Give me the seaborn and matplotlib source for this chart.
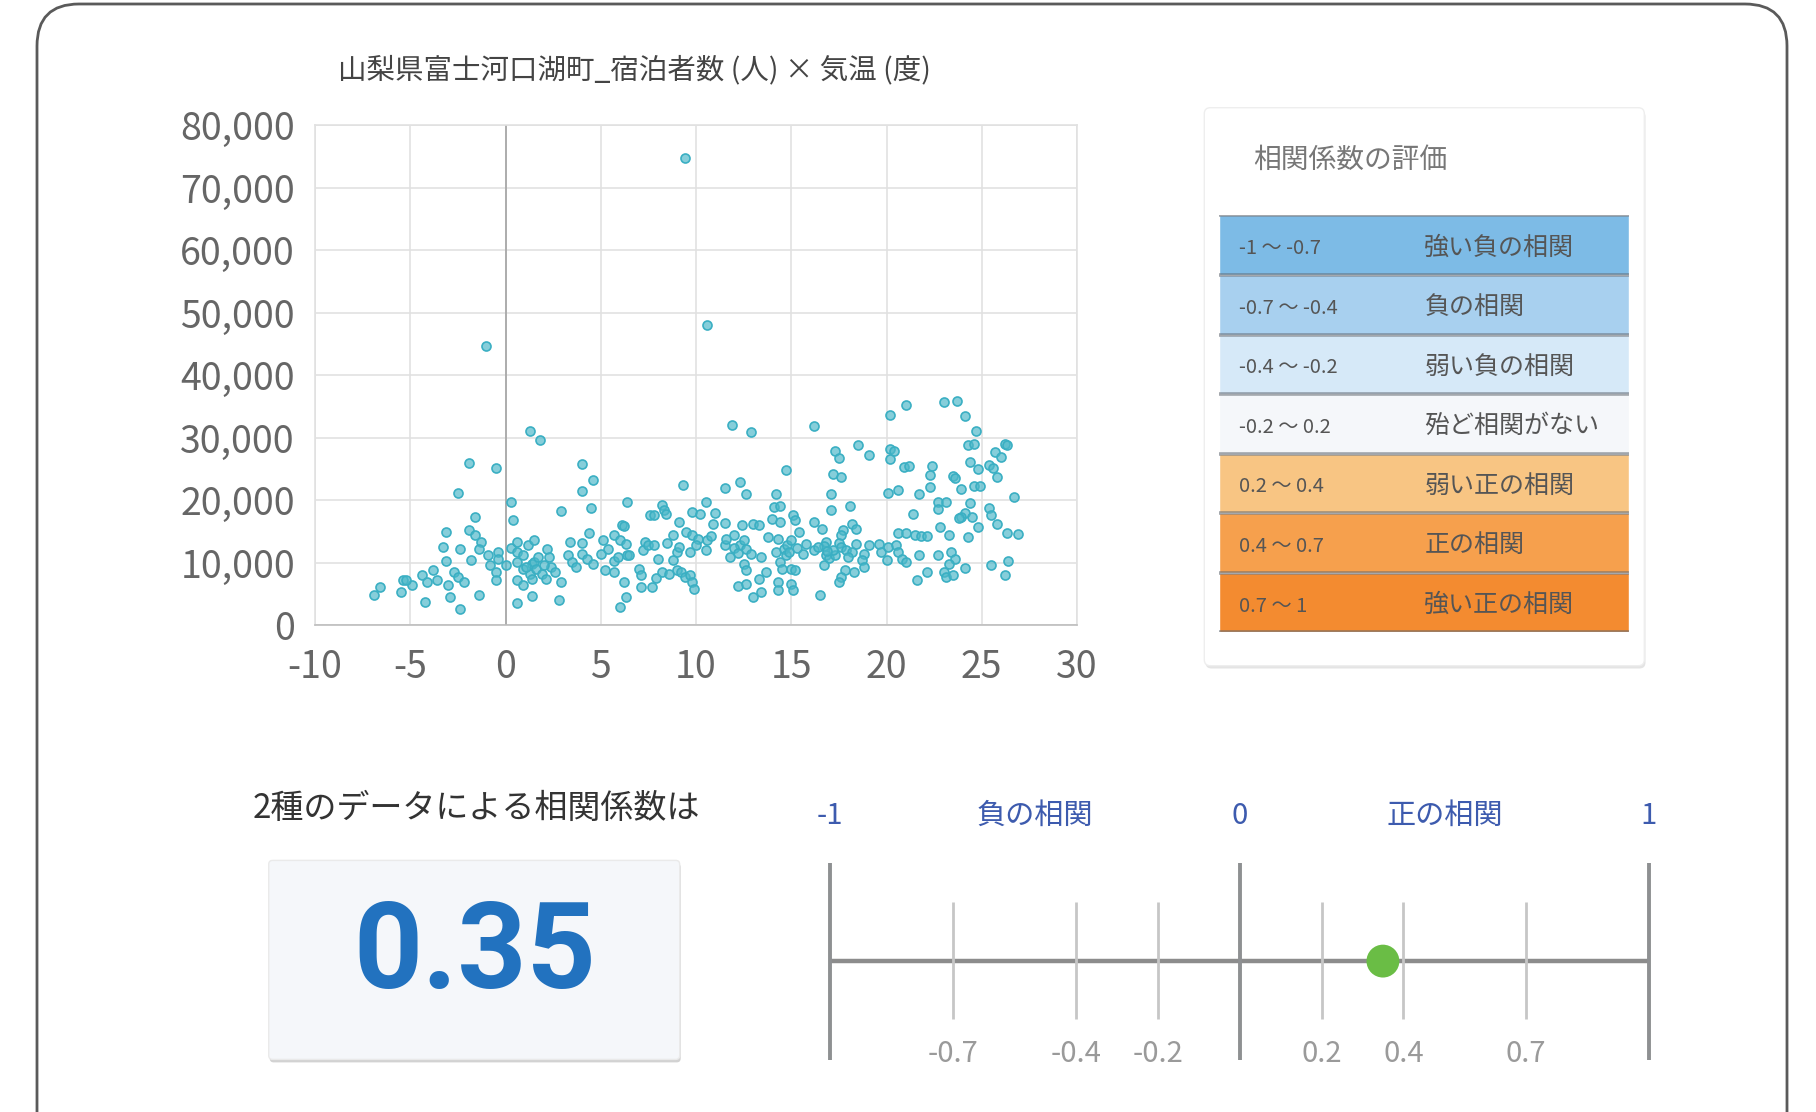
import matplotlib
import matplotlib.pyplot as plt
import seaborn as sns
from matplotlib.patches import FancyBboxPatch

matplotlib.use('agg')

# ---- data ----
chart_title = '山梨県富士河口湖町_宿泊者数 (人) × 気温 (度)'

# 気温 (度)
temps = [
    1.3, 1.8, -1.9, -0.5, -2.5, 0.3, 0.4, 2.9, -1.6, -3.1,
    -1.9, -1.6, -1.3, -3.3, -2.4, -1.4, -3.1, -1.8, -0.9, -0.4,
    -0.8, -0.4, -0.5, -0.5, 0.05, 0.3, 0.6, 0.6, 1.2, 1.5,
    0.6, 0.9, 1.4, 1.5, 1.3, 1.6, 1.9, 2.2, 2.3, 2.4,
    2.1, 0.6, 0.9, 1.4, 2.9, 1.4, 0.6, 2.8, 3.4, 3.3,
    3.5, 3.7, -3.8, -4.4, -4.1, -3.6, -2.7, -2.5, -2.2, -3.0,
    -5.4, -4.9, -5.5, -6.6, -6.9, -4.2, -2.9, -1.4, -2.4, 1.1,
    2.0, 1.7, 0.9, 2.6, -5.2,
    4.0, 4.6, 4.0, 4.5, 4.4, 4.0, 4.0, 4.3, 4.6, 5.0,
    5.1, 5.2, 5.7, 5.7, 5.7, 5.9, 6.1, 6.2, 6.0, 6.3,
    6.2, 6.3, 6.0, 6.4, 6.4, 6.5, 7.0, 7.1, 7.1, 7.3,
    7.2, 7.5, 7.8, 8.0, 7.6, 7.8, 8.2, 8.3, 8.4, 7.9,
    8.2, 7.7, 8.6, 8.8, 9.1, 9.5, 9.3, 8.8, 9.0, 9.1,
    9.0, 9.2, 9.4, 9.7, 9.8, 9.9, 9.7, 9.8, 10.2, 9.8,
    10.1, 10.5, 10.6, 10.8, 10.5, 10.9, 11.0, 11.5, 11.5, 11.8,
    12.0, 11.9, 12.9, 11.5, 12.3, 12.6, 12.4, 12.3, 12.5, 12.6,
    12.5, 12.6, 12.9, 13.0, 13.3, 13.4, 13.7, 13.3, 12.2, 12.6,
    13.0, 13.4, 13.8, 14.0, 14.2, 14.1, 14.4, 14.4, 14.7, 14.2,
    14.3, 14.4, 14.6, 14.8, 15.0, 15.1, 15.2, 14.5, 15.0, 15.2,
    14.3, 14.3, 15.0, 15.1, 14.7, 15.4,
    11.6, 12.0, 12.2, 14.9, 15.3, 15.6, 15.8, 5.4, 8.5, 10.0,
    16.2, 18.5, 19.1, 17.3, 17.5, 20.2, 21.0, 20.2, 20.4, 20.2,
    17.2, 17.6, 17.1, 17.1, 18.1, 16.2, 16.6, 18.2, 18.4, 17.7,
    17.6, 17.5, 16.8, 16.7, 16.2, 16.8, 17.0, 17.3, 16.7, 17.6,
    17.9, 18.4, 18.2, 18.8, 19.1, 19.6, 19.7, 20.1, 20.5, 20.6,
    20.0, 20.8, 21.0, 18.7, 18.8, 18.3, 17.8, 17.6, 17.5, 16.5,
    20.1, 20.6, 21.7, 21.4, 20.6, 21.0, 21.5, 21.8, 22.1, 21.7,
    22.1, 21.6, 20.9, 21.2, 22.3, 22.3, 22.4, 22.7, 22.7, 23.1,
    22.8, 23.3, 22.7, 23.4, 23.6, 23.3, 23.0, 23.1, 23.5, 24.1,
    23.0, 23.7, 24.1, 24.7, 24.3, 24.6, 24.4, 24.8, 23.5, 23.6,
    23.9, 24.6, 24.9, 24.4, 24.1, 23.9, 23.8, 24.5, 24.3, 24.8,
    25.4, 25.6, 25.7, 26.0, 25.8, 26.2, 26.3, 25.4, 25.5, 25.8,
    26.7, 26.3, 26.9, 26.4, 25.5, 26.2,
    16.4, 17.2, 16.9, 18.0,
    9.4, 10.6, -1.0,
]

# 宿泊者数 (人)
guests = [
    31000, 29700, 25900, 25200, 21200, 19700, 16900, 18300, 17300, 14900,
    15300, 14400, 13400, 12500, 12200, 12200, 10300, 10500, 11200, 11700,
    9600, 10600, 8500, 7300, 9600, 12400, 13300, 11700, 12900, 13700,
    10100, 9000, 9800, 10100, 8200, 9000, 8200, 12200, 10900, 9300,
    7400, 7300, 6400, 7400, 7000, 4700, 3600, 4100, 13300, 11200,
    10100, 9300, 8800, 8100, 7000, 7300, 8500, 7700, 7000, 6500,
    7300, 6500, 5300, 6100, 4900, 3700, 4500, 4900, 2600, 9300,
    9600, 11000, 11300, 8500, 7200,
    25800, 23200, 21500, 18800, 14800, 13200, 11400, 10600, 9800, 11400,
    13600, 8800, 8500, 14400, 10300, 10900, 16100, 15900, 13600, 13000,
    6900, 4500, 2900, 19800, 11300, 11200, 9000, 8000, 6100, 13300,
    12000, 12900, 12800, 10600, 17700, 17700, 19300, 18500, 17800, 7600,
    8600, 6100, 8200, 14400, 16600, 14900, 22500, 10400, 11700, 12500,
    8800, 8600, 7700, 8000, 7000, 5800, 11700, 18200, 17800, 14400,
    13800, 19800, 13600, 14300, 12000, 16200, 18000, 16400, 12900, 10900,
    14400, 32000, 30900, 22000, 22900, 21000, 16000, 12800, 13600, 12200,
    9800, 8800, 11400, 16200, 16000, 10900, 8600, 7400, 6300, 6600,
    4500, 5300, 14100, 17000, 21000, 18900, 19100, 16500, 24800, 11700,
    13800, 10100, 12200, 12800, 13600, 17600, 16800, 9000, 9000, 8800,
    6900, 5600, 6600, 5600, 11200, 14900,
    13800, 12300, 11500, 11800, 12400, 11400, 13000, 12200, 13100, 12800,
    31900, 28900, 27300, 27800, 26800, 33600, 35300, 28200, 27900, 26600,
    24200, 23700, 21000, 18500, 19100, 16600, 15400, 16200, 15400, 15300,
    14400, 13200, 13400, 12700, 12000, 11200, 10800, 11200, 9600, 12500,
    12000, 13000, 11700, 11400, 12900, 13000, 11700, 12500, 12900, 11700,
    10400, 10600, 10100, 10400, 9300, 8600, 8800, 7700, 6900, 4800,
    21200, 21700, 21000, 17800, 14800, 14800, 14400, 14300, 14300, 11200,
    8600, 7300, 25300, 25500, 22100, 24000, 25500, 19700, 18600, 19700,
    15700, 14400, 11200, 11800, 10600, 9800, 8600, 7700, 8100, 9200,
    35700, 35800, 33500, 31000, 28800, 29000, 26100, 25000, 23900, 23500,
    21800, 22300, 22300, 19600, 18000, 17300, 17100, 17300, 14100, 15700,
    25600, 25200, 27700, 26900, 23700, 29000, 28800, 18800, 17600, 16200,
    20500, 14800, 14600, 10300, 9600, 8000,
    12600, 12100, 11900, 10900,
    74800, 48000, 44600,
]

x_ticks = [-10, -5, 0, 5, 10, 15, 20, 25, 30]
y_ticks = [0, 10000, 20000, 30000, 40000, 50000, 60000, 70000, 80000]
y_tick_labels = ['0', '10,000', '20,000', '30,000', '40,000',
                 '50,000', '60,000', '70,000', '80,000']

eval_title = '相関係数の評価'
eval_ranges = ['-1 ～ -0.7', '-0.7 ～ -0.4', '-0.4 ～ -0.2', '-0.2 ～ 0.2',
               '0.2 ～ 0.4', '0.4 ～ 0.7', '0.7 ～ 1']
eval_labels = ['強い負の相関', '負の相関', '弱い負の相関', '殆ど相関がない',
               '弱い正の相関', '正の相関', '強い正の相関']
eval_colors = ['#7DBBE6', '#A8D0EF', '#D6E9F8', '#F5F7FA',
               '#F8C583', '#F6A04D', '#F38B30']

corr_caption = '2種のデータによる相関係数は'
corr_value = 0.35
gauge_major = [-1, 0, 1]
gauge_minor = [-0.7, -0.4, -0.2, 0.2, 0.4, 0.7]
gauge_minor_labels = ['-0.7', '-0.4', '-0.2', '0.2', '0.4', '0.7']
gauge_top_pos = [-1, -0.5, 0, 0.5, 1]
gauge_top_labels = ['-1', '負の相関', '0', '正の相関', '1']

# ---- figure ----
sns.set_theme(style='white')
plt.rcParams['font.family'] = ['Noto Sans CJK JP', 'DejaVu Sans']
plt.rcParams['axes.unicode_minus'] = False

W, H = 1816, 1112
fig = plt.figure(figsize=(W / 100, H / 100), dpi=100)

# background canvas in pixel units
bg = fig.add_axes([0, 0, 1, 1])
bg.set_xlim(0, W)
bg.set_ylim(H, 0)
bg.axis('off')


def px_axes(x0, y0, x1, y1):
    a = fig.add_axes([x0 / W, 1 - y1 / H, (x1 - x0) / W, (y1 - y0) / H])
    a.set_facecolor('none')
    return a


# outer rounded frame
bg.add_patch(FancyBboxPatch((37, 4), 1750, 1200,
                            boxstyle='round,pad=0,rounding_size=42',
                            fc='white', ec='#5A5A5A', lw=2))

# ---- scatter ----
bg.text(634.6, 70, chart_title, fontsize=20.5, color='#444444',
        ha='center', va='center')

ax = px_axes(315, 125.1, 1077, 625.3)
ax.set_xlim(-10, 30)
ax.set_ylim(0, 80000)
ax.set_xticks(x_ticks)
ax.set_yticks(y_ticks)
ax.set_yticklabels(y_tick_labels)
ax.grid(True, color='#E1E1E1', lw=1.2)
ax.axvline(0, color='#A8A8A8', lw=1.3, zorder=1)
for s in ax.spines.values():
    s.set_color('#E1E1E1')
    s.set_linewidth(1.2)
ax.spines['bottom'].set_color('#BDBDBD')
ax.tick_params(length=8.4, width=1.2, color='#E1E1E1', labelsize=27,
               labelcolor='#666666', pad=6)
ax.tick_params(axis='x', pad=8)
sns.scatterplot(x=temps, y=guests, ax=ax, s=42,
                color=(0.30, 0.72, 0.79, 0.68), edgecolor='#3AAFC3',
                linewidth=1.2, zorder=3)

# ---- evaluation card ----
bg.add_patch(FancyBboxPatch((1205.5, 110.5), 440, 558,
                            boxstyle='round,pad=0,rounding_size=6',
                            fc='#E4E4E4', ec='none'))
bg.add_patch(FancyBboxPatch((1204.3, 107.7), 440, 558,
                            boxstyle='round,pad=0,rounding_size=6',
                            fc='white', ec='#EEEEEE', lw=1))
bg.text(1253, 159.5, eval_title, fontsize=20, color='#777777',
        ha='left', va='center')

tab = px_axes(1219.4, 215.4, 1629.3, 632.3)
sns.barplot(x=[1] * len(eval_labels), y=eval_labels, hue=eval_labels,
            palette=eval_colors, width=1, orient='h', legend=False,
            saturation=1, ax=tab)
tab.set_xlim(0, 1)
tab.set_ylim(len(eval_labels) - 0.5, -0.5)
tab.hlines([i - 0.5 for i in range(len(eval_labels) + 1)], 0, 1,
           color=(0.35, 0.38, 0.42, 0.55), lw=2.6)
for i, (r, lab) in enumerate(zip(eval_ranges, eval_labels)):
    tab.text(0.048, i + 0.06, r, fontsize=14.5, color='#555555',
             ha='left', va='center')
    tab.text(0.5, i + 0.04, lab, fontsize=18, color='#555555',
             ha='left', va='center')
tab.axis('off')

# ---- coefficient box ----
bg.text(252.4, 808, corr_caption, fontsize=23.8, color='#333333',
        ha='left', va='center')
bg.add_patch(FancyBboxPatch((269.7, 863.4), 411, 199,
                            boxstyle='round,pad=0,rounding_size=4',
                            fc='#D2D2D2', ec='none'))
bg.add_patch(FancyBboxPatch((268.7, 860.4), 411, 199,
                            boxstyle='round,pad=0,rounding_size=4',
                            fc='#F5F7FA', ec='#EAEAEA', lw=1))
bg.text(474.8, 955, f'{corr_value:.2f}', fontsize=87, fontweight='bold',
        color='#2272BF', ha='center', va='center', family='Roboto')

# ---- gauge ----
g = px_axes(830.3, 785, 1649, 1085)
g.set_xlim(-1, 1)
g.set_ylim(1085, 785)
g.axis('off')
g.hlines(961.1, -1, 1, color='#8C8C8C', lw=3.2)
g.vlines(gauge_minor, 902, 1019, color='#C6C6C6', lw=2)
g.vlines(gauge_major, 862.7, 1059.6, color='#8E9092', lw=2.8, clip_on=False)
for v, lab in zip(gauge_minor, gauge_minor_labels):
    g.text(v, 1053.5, lab, fontsize=21, color='#9A9A9A',
           ha='center', va='center')
for v, lab in zip(gauge_top_pos, gauge_top_labels):
    g.text(v, 815.5, lab, fontsize=21, color='#3D5BAE',
           ha='center', va='center')
sns.scatterplot(x=[corr_value], y=[961.1], s=560, color='#6ABD45',
                edgecolor='none', ax=g, zorder=5, clip_on=False)

fig.savefig('out.png', dpi=100)
plt.close(fig)
